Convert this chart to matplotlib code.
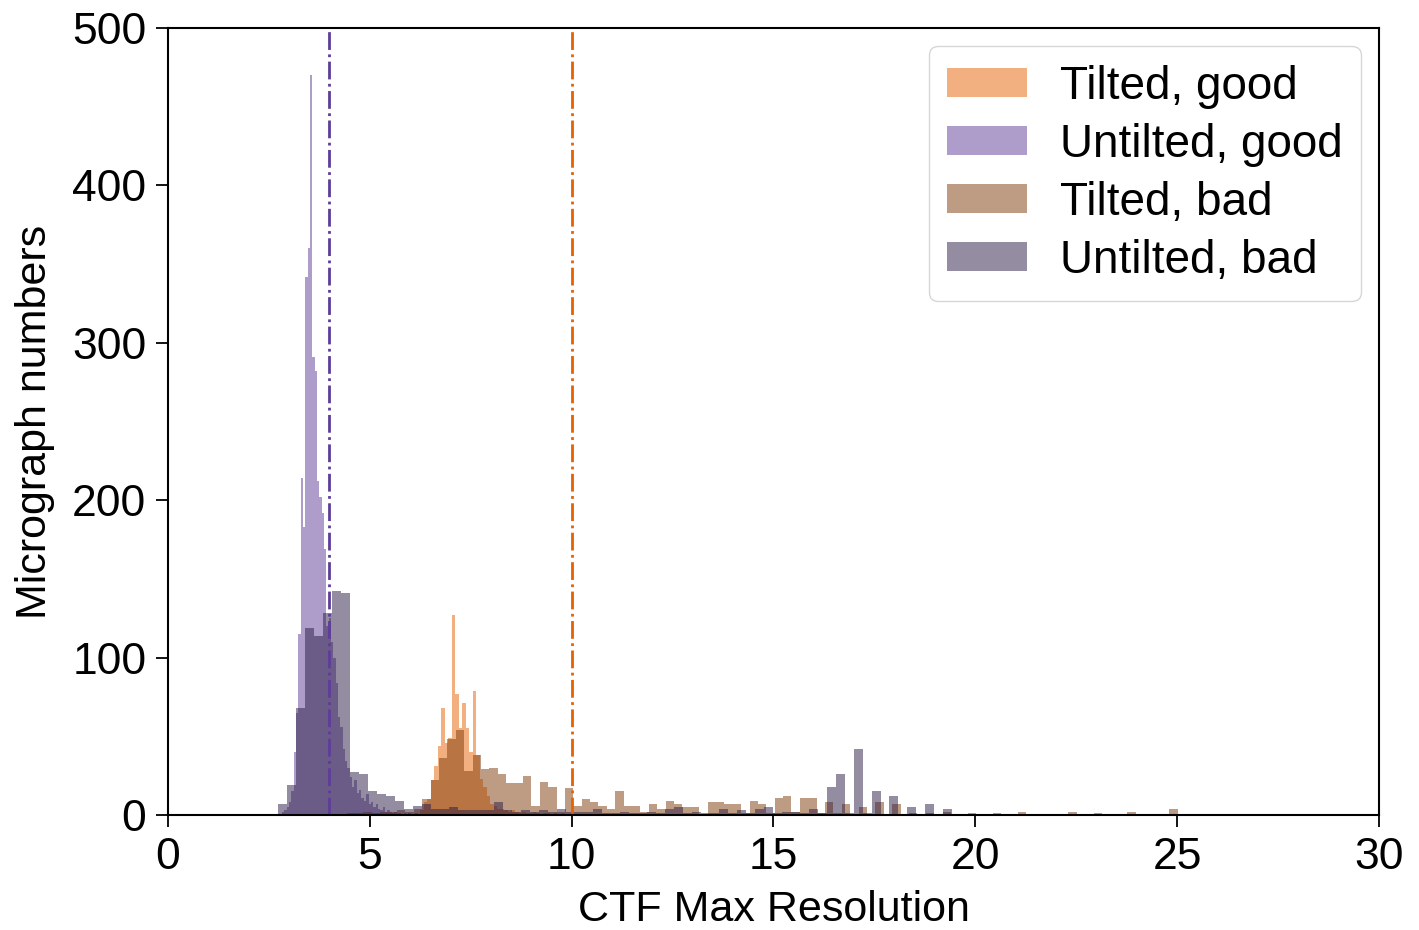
#!/usr/bin/env python3

import numpy as np
from matplotlib import pyplot as plt

# counts per bin
tilted_good = [3, 8, 10, 22, 31, 44, 68, 46, 49, 127,
               77, 55, 71, 55, 40, 79, 38, 23, 18, 12,
               7, 6, 4, 4, 3, 2, 3, 2, 1, 2,
               1, 1, 2, 1, 0, 1, 1, 0, 1, 0,
               1, 0]
untilted_good = [0, 2, 3, 5, 8, 15, 40, 65, 115, 214,
                 183, 342, 360, 470, 291, 282, 212, 202, 192, 169,
                 120, 125, 110, 100, 84, 62, 56, 42, 34, 30,
                 24, 18, 22, 14, 16, 11, 9, 13, 7, 8,
                 5, 7, 4, 3, 5, 2, 3, 2, 1, 2,
                 1, 1, 0, 1, 0, 1, 0, 0, 1, 0]
tilted_bad = [1, 1, 2, 1, 2, 2, 3, 2, 4, 10,
              22, 36, 48, 54, 28, 38, 29, 30, 26, 20,
              20, 25, 6, 21, 18, 2, 17, 6, 10, 8,
              6, 4, 15, 6, 6, 2, 7, 4, 9, 7,
              5, 5, 0, 8, 8, 7, 7, 1, 9, 7,
              1, 11, 12, 2, 11, 11, 1, 8, 1, 7,
              0, 5, 0, 8, 0, 7, 0, 1, 0, 1,
              0, 2, 0, 0, 1, 0, 0, 1, 0, 0,
              2, 0, 0, 0, 0, 0, 2, 0, 0, 1,
              0, 0, 0, 2, 0, 0, 0, 0, 4]
untilted_bad = [7, 19, 68, 119, 114, 128, 142, 141, 27, 26,
                15, 13, 12, 9, 4, 6, 7, 4, 4, 5,
                3, 3, 3, 3, 8, 3, 2, 3, 2, 3,
                2, 4, 2, 2, 2, 4, 1, 1, 2, 1,
                1, 2, 1, 4, 5, 1, 2, 1, 1, 4,
                1, 3, 1, 4, 5, 1, 2, 2, 1, 4,
                1, 18, 26, 1, 42, 1, 15, 0, 12, 0,
                5, 0, 7, 0, 4]

# (first bin edge, bin width) of each histogram
bins_tilted_good = (6.247, 0.087)
bins_untilted_good = (2.763, 0.058)
bins_tilted_bad = (4.427, 0.2079)
bins_untilted_bad = (2.73, 0.2227)

labels = ["Tilted, good", "Untilted, good", "Tilted, bad", "Untilted, bad"]
colors = ["#e66101", "#5e3c99", "#7f3b08", "#2a1a45"]

cut_untilted = 4
cut_tilted = 10


def edges(spec, counts):
    start, width = spec
    return start + width * np.arange(len(counts) + 1)


def main():
    plt.rcParams['font.family'] = 'Liberation Sans'
    plt.rcParams['font.size'] = 32
    fig = plt.figure(figsize=(14.19, 9.30), dpi=100)
    ax = fig.add_axes([0.1184, 0.1237, 0.8534, 0.8462])

    series = [(tilted_good, bins_tilted_good),
              (untilted_good, bins_untilted_good),
              (tilted_bad, bins_tilted_bad),
              (untilted_bad, bins_untilted_bad)]
    for (counts, spec), label, color in zip(series, labels, colors):
        e = edges(spec, counts)
        ax.hist(e[:-1], bins=e, weights=counts, color=color, alpha=0.5,
                label=label)

    ax.axvline(cut_untilted, color="#5e3c99", linestyle='-.', lw=2)
    ax.axvline(cut_tilted, color="#e66101", linestyle='-.', lw=2)

    ax.set_xlim(0, 30)
    ax.set_ylim(0, 500)
    ax.set_xticks(range(0, 31, 5))
    ax.set_yticks(range(0, 501, 100))
    ax.tick_params(length=8.6, width=1.3, pad=7, labelsize=32)
    for s in ax.spines.values():
        s.set_linewidth(1.5)
    ax.set_xlabel("CTF Max Resolution", fontsize=31, labelpad=9)
    ax.set_ylabel("Micrograph numbers", fontsize=31, labelpad=12)
    ax.legend(loc='upper right', fontsize=33, handlelength=1.75,
              handleheight=0.6, labelspacing=0.305, handletextpad=0.7,
              borderaxespad=0.4)

    plt.savefig("out.png", dpi=100)


if __name__ == "__main__":
    main()
